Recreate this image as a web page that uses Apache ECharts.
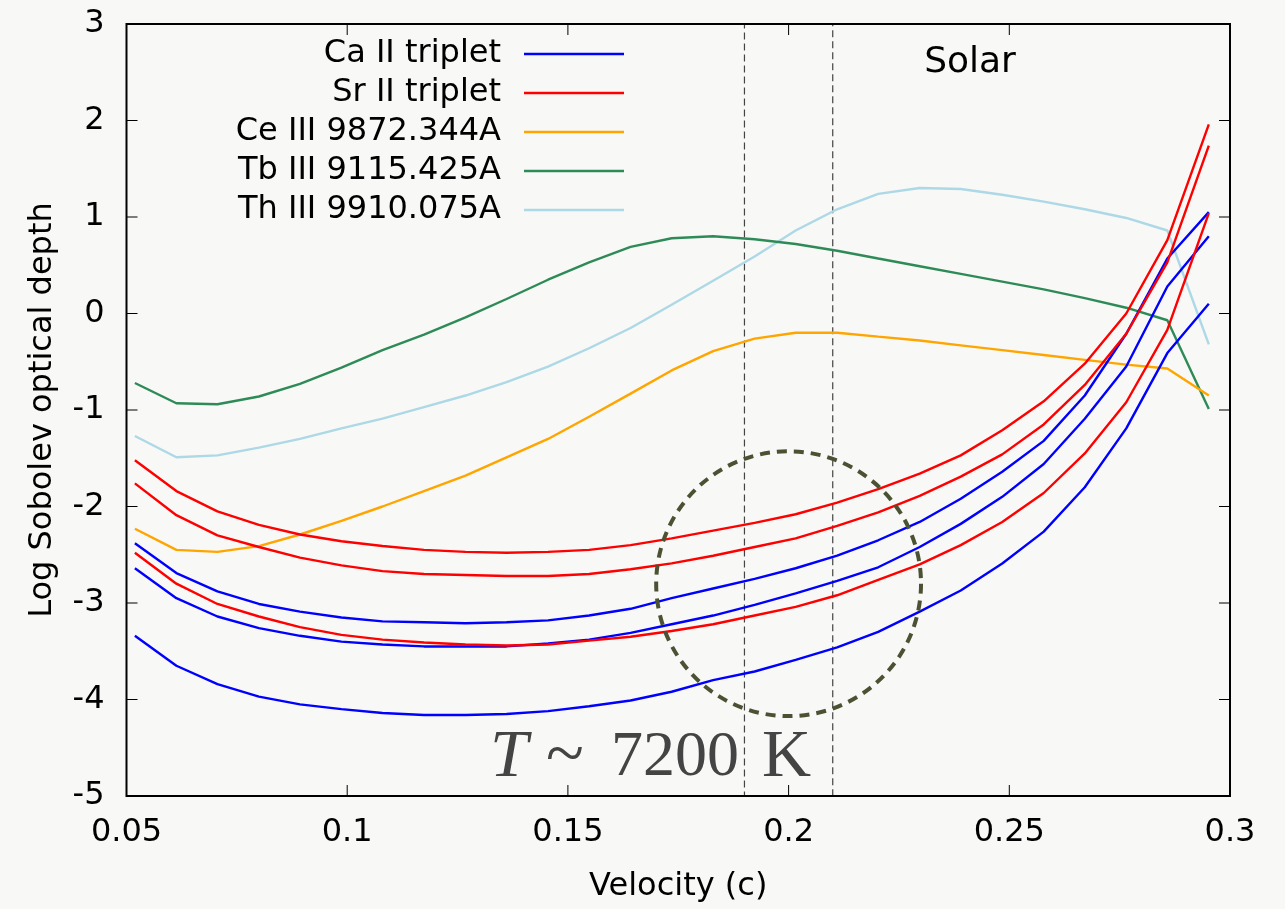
<!DOCTYPE html>
<html>
<head>
<meta charset="utf-8">
<script src="https://cdn.jsdelivr.net/npm/echarts@6/dist/echarts.min.js"></script>
<style>
html,body{margin:0;padding:0;background:#f8f8f6;}
#c{width:1285px;height:909px;}
</style>
</head>
<body>
<div id="c"></div>
<script>
// Velocity grid (c)
const velocity = [0.0519,0.0613,0.0706,0.0800,0.0893,0.0987,0.1080,0.1174,0.1268,0.1361,0.1455,0.1548,0.1642,0.1735,0.1829,0.1923,0.2016,0.2110,0.2203,0.2297,0.2390,0.2484,0.2578,0.2671,0.2765,0.2858,0.2952];

// Ca II triplet (three lines)
const caII_a = [-2.38,-2.69,-2.88,-3.01,-3.09,-3.15,-3.19,-3.20,-3.21,-3.20,-3.18,-3.13,-3.06,-2.95,-2.85,-2.75,-2.64,-2.51,-2.35,-2.16,-1.92,-1.64,-1.32,-0.85,-0.21,0.57,1.05];
const caII_b = [-2.64,-2.95,-3.14,-3.26,-3.34,-3.40,-3.43,-3.45,-3.45,-3.45,-3.42,-3.38,-3.31,-3.22,-3.13,-3.02,-2.90,-2.77,-2.63,-2.42,-2.18,-1.90,-1.56,-1.09,-0.55,0.28,0.80];
const caII_c = [-3.34,-3.65,-3.84,-3.97,-4.05,-4.10,-4.14,-4.16,-4.16,-4.15,-4.12,-4.07,-4.01,-3.92,-3.80,-3.71,-3.59,-3.46,-3.30,-3.09,-2.87,-2.59,-2.26,-1.80,-1.19,-0.41,0.10];

// Sr II triplet (three lines)
const srII_a = [-1.52,-1.84,-2.05,-2.19,-2.29,-2.36,-2.41,-2.45,-2.47,-2.48,-2.47,-2.45,-2.40,-2.33,-2.25,-2.17,-2.08,-1.96,-1.82,-1.66,-1.47,-1.21,-0.91,-0.52,0.00,0.76,1.96];
const srII_b = [-1.76,-2.09,-2.30,-2.42,-2.53,-2.61,-2.67,-2.70,-2.71,-2.72,-2.72,-2.70,-2.65,-2.59,-2.51,-2.42,-2.33,-2.20,-2.06,-1.89,-1.69,-1.46,-1.15,-0.74,-0.21,0.53,1.74];
const srII_c = [-2.48,-2.80,-3.01,-3.14,-3.25,-3.33,-3.38,-3.41,-3.43,-3.44,-3.43,-3.39,-3.35,-3.29,-3.22,-3.13,-3.04,-2.92,-2.76,-2.60,-2.40,-2.16,-1.86,-1.45,-0.92,-0.17,1.04];

// Ce III 9872.344A
const ceIII = [-2.23,-2.45,-2.47,-2.41,-2.29,-2.15,-2.00,-1.84,-1.68,-1.49,-1.30,-1.07,-0.83,-0.59,-0.39,-0.26,-0.20,-0.20,-0.24,-0.28,-0.33,-0.38,-0.43,-0.48,-0.53,-0.57,-0.85];
// Tb III 9115.425A
const tbIII = [-0.72,-0.93,-0.94,-0.86,-0.73,-0.56,-0.38,-0.22,-0.04,0.15,0.35,0.53,0.69,0.78,0.80,0.77,0.72,0.65,0.57,0.49,0.41,0.33,0.25,0.16,0.06,-0.07,-0.99];
// Th III 9910.075A
const thIII = [-1.27,-1.49,-1.47,-1.39,-1.30,-1.19,-1.09,-0.97,-0.85,-0.71,-0.55,-0.36,-0.15,0.09,0.34,0.59,0.86,1.08,1.24,1.30,1.29,1.23,1.16,1.08,0.99,0.86,-0.32];

const legendNames = ['Ca II triplet','Sr II triplet','Ce III 9872.344A','Tb III 9115.425A','Th III 9910.075A'];
const xTickValues = [0.05,0.1,0.15,0.2,0.25,0.3];
const xTickLabels = ['0.05','0.1','0.15','0.2','0.25','0.3'];
const yTickValues = [-5,-4,-3,-2,-1,0,1,2,3];
const yTickLabels = ['-5','-4','-3','-2','-1','0','1','2','3'];

// annotation values (data units)
const windowRange = [0.19, 0.21];
const circleCenter = [0.2, -2.8];
const circleRadiusV = 0.03;

const FONT = 'DejaVu Sans';
const SERIF = 'Liberation Serif';
const colors = {ca:'#0000ff', sr:'#ff0000', ce:'#ffa500', tb:'#2e8b57', th:'#add8e6'};

function pts(arr){ return velocity.map((v,i)=>[v, arr[i]]); }
function mk(name, arr, color, extra){
  return Object.assign({
    name: name, type:'line', data: pts(arr), symbol:'none', showSymbol:false,
    lineStyle:{color:color, width:2.4}, itemStyle:{color:color},
    animation:false, silent:true
  }, extra||{});
}

const chart = echarts.init(document.getElementById('c'), null, {renderer:'canvas'});

function fmtX(v){
  const idx = xTickValues.findIndex(t => Math.abs(t - v) < 1e-9);
  return idx >= 0 ? xTickLabels[idx] : '';
}
function fmtY(v){
  const idx = yTickValues.findIndex(t => Math.abs(t - v) < 1e-9);
  return idx >= 0 ? yTickLabels[idx] : '';
}

chart.setOption({
  backgroundColor:'#f8f8f6',
  animation:false,
  textStyle:{fontFamily:FONT},
  grid:{left:126.5, right:55, top:24, bottom:113, containLabel:false},
  legend:{
    data: legendNames,
    orient:'vertical', align:'right',
    right:661, top:38, padding:0,
    icon:'rect',
    itemWidth:100, itemHeight:2.4, itemGap:7,
    selectedMode:false,
    textStyle:{fontFamily:FONT, fontSize:32, color:'#000', lineHeight:30, padding:[0,18,0,0]}
  },
  xAxis:[{
    type:'value', min:0.05, max:0.3, interval:0.05, position:'bottom',
    name:'Velocity (c)', nameLocation:'middle', nameGap:75,
    nameTextStyle:{fontFamily:FONT, fontSize:32, color:'#000'},
    axisLine:{show:false, onZero:false}, axisTick:{show:false}, splitLine:{show:false},
    axisLabel:{fontFamily:FONT, fontSize:32, color:'#000', margin:21, formatter:fmtX}
  }],
  yAxis:[{
    type:'value', min:-5, max:3, interval:1, position:'left',
    name:'Log Sobolev optical depth', nameLocation:'middle', nameGap:68, nameRotate:90,
    nameTextStyle:{fontFamily:FONT, fontSize:32, color:'#000'},
    axisLine:{show:false, onZero:false}, axisTick:{show:false}, splitLine:{show:false},
    axisLabel:{fontFamily:FONT, fontSize:32, color:'#000', margin:22, formatter:fmtY}
  }],
  series:[
    mk('Th III 9910.075A', thIII, colors.th),
    mk('Tb III 9115.425A', tbIII, colors.tb),
    mk('Ce III 9872.344A', ceIII, colors.ce),
    mk('Ca II triplet', caII_c, colors.ca),
    mk('Ca II triplet', caII_b, colors.ca),
    mk('Ca II triplet', caII_a, colors.ca),
    mk('Sr II triplet', srII_c, colors.sr),
    mk('Sr II triplet', srII_b, colors.sr),
    mk('Sr II triplet', srII_a, colors.sr, {
      markArea:{
        silent:true,
        itemStyle:{color:'rgba(0,0,0,0)', borderColor:'#444', borderWidth:1.2, borderType:[7,4]},
        data:[[{xAxis:windowRange[0]},{xAxis:windowRange[1]}]]
      }
    })
  ]
});

// frame and mirrored inward ticks, positioned through the axes' own scales
const px = (p) => chart.convertToPixel({gridIndex:0}, p);
const tl = px([0.05, 3]), br = px([0.3, -5]);
const TICK = 11;
const frameEls = [{
  type:'rect', silent:true, z:100,
  shape:{x:tl[0], y:tl[1], width:br[0]-tl[0], height:br[1]-tl[1]},
  style:{fill:null, stroke:'#000', lineWidth:2}
}];
xTickValues.forEach(v => {
  const x = px([v, 0])[0];
  frameEls.push({type:'line', silent:true, z:100, shape:{x1:x, y1:br[1], x2:x, y2:br[1]-TICK}, style:{stroke:'#000', lineWidth:1}});
  frameEls.push({type:'line', silent:true, z:100, shape:{x1:x, y1:tl[1], x2:x, y2:tl[1]+TICK}, style:{stroke:'#000', lineWidth:1}});
});
yTickValues.forEach(v => {
  const y = px([0.1, v])[1];
  frameEls.push({type:'line', silent:true, z:100, shape:{x1:tl[0], y1:y, x2:tl[0]+TICK, y2:y}, style:{stroke:'#000', lineWidth:1}});
  frameEls.push({type:'line', silent:true, z:100, shape:{x1:br[0], y1:y, x2:br[0]-TICK, y2:y}, style:{stroke:'#000', lineWidth:1}});
});

const c = px(circleCenter);
const e = px([circleCenter[0]+circleRadiusV, circleCenter[1]]);
const r = e[0] - c[0];

const tBase = 758;
chart.setOption({
  graphic: frameEls.concat([
    {type:'circle', shape:{cx:c[0], cy:c[1], r:r}, silent:true, z:50,
     style:{fill:null, stroke:'#4a5233', lineWidth:4, lineDash:[10,7]}},
    {type:'text', x:970, y:63, silent:true, z:50,
     style:{text:'Solar', fontFamily:FONT, fontSize:36, fill:'#000', textAlign:'center', textVerticalAlign:'middle'}},
    {type:'text', x:490, y:tBase, silent:true, z:50,
     style:{text:'T', fontFamily:SERIF, fontStyle:'italic', fontSize:68, fill:'#444', textAlign:'left', textVerticalAlign:'middle'}},
    {type:'text', x:546, y:tBase, silent:true, z:50,
     style:{text:'~', fontFamily:SERIF, fontSize:70, fill:'#444', textAlign:'left', textVerticalAlign:'middle'}},
    {type:'text', x:611, y:tBase, silent:true, z:50,
     style:{text:'7200', fontFamily:SERIF, fontSize:64, fill:'#444', textAlign:'left', textVerticalAlign:'middle'}},
    {type:'text', x:762, y:tBase, silent:true, z:50,
     style:{text:'K', fontFamily:SERIF, fontSize:68, fill:'#444', textAlign:'left', textVerticalAlign:'middle'}}
  ])
});
</script>
</body>
</html>
